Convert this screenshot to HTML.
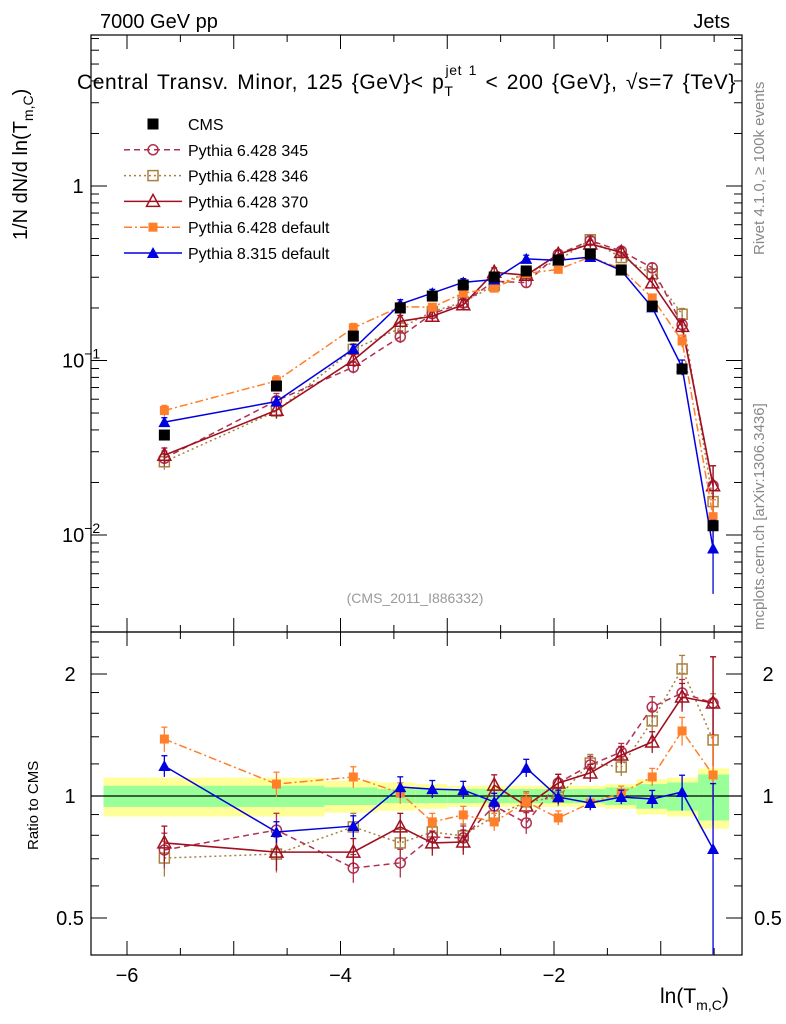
<!DOCTYPE html>
<html><head><meta charset="utf-8"><style>
body{margin:0;background:#fff}
svg{display:block;font-family:"Liberation Sans",sans-serif}
</style></head><body>
<svg id="c" width="786" height="1024" viewBox="0 0 786 1024" xmlns="http://www.w3.org/2000/svg">
<rect x="0" y="0" width="786" height="1024" fill="#fff"/>
<g id="bands"></g><g id="grid"></g><g id="marks"></g>
<rect x="91" y="35" width="651" height="597" fill="none" stroke="#000" stroke-width="1.2"/>
<rect x="91" y="632" width="651" height="323" fill="none" stroke="#000" stroke-width="1.2"/>
<text x="100" y="28" font-size="20">7000 GeV pp</text>
<text x="730" y="28" font-size="20" text-anchor="end">Jets</text>
<text x="77" y="89" font-size="21" letter-spacing="0.6" word-spacing="2">Central Transv. Minor, 125 {GeV}&lt; p<tspan font-size="14" dy="7">T</tspan><tspan font-size="14" dx="-8" dy="-21">jet 1</tspan><tspan dy="14"> &lt; 200 {GeV}, √s=7 {TeV}</tspan></text>
<text transform="translate(27,240) rotate(-90)" font-size="20">1/N    dN/d ln(T<tspan font-size="14" dy="6">m,C</tspan><tspan dy="-6">)</tspan></text>
<text transform="translate(38,850) rotate(-90)" font-size="15">Ratio to CMS</text>
<text x="660" y="1003" font-size="21">ln(T<tspan font-size="14" dy="7">m,C</tspan><tspan dy="-7">)</tspan></text>
<text transform="translate(764,255) rotate(-90)" font-size="15" fill="#888">Rivet 4.1.0, ≥ 100k events</text>
<text transform="translate(764,630) rotate(-90)" font-size="15" fill="#888">mcplots.cern.ch [arXiv:1306.3436]</text>
<text x="415" y="603" font-size="14" fill="#999" text-anchor="middle">(CMS_2011_I886332)</text>
<g id="legend"></g>
</svg>
<script>
const xs=[-5.65,-4.60,-3.88,-3.44,-3.14,-2.85,-2.56,-2.26,-1.96,-1.66,-1.37,-1.08,-0.80,-0.51];
const cms=[0.0374,0.0714,0.138,0.200,0.234,0.271,0.301,0.326,0.377,0.408,0.330,0.205,0.0894,0.0113];
const rPy8=[1.186,0.815,0.843,1.052,1.040,1.035,0.967,1.173,0.994,0.961,0.994,0.983,1.023,0.740];
const rDef=[1.382,1.070,1.114,1.017,0.863,0.898,0.863,0.967,0.883,0.961,1.017,1.114,1.447,1.127];
const r345=[0.736,0.824,0.664,0.684,0.792,0.788,0.945,0.858,1.077,1.193,1.284,1.658,1.795,1.696];
const r346=[0.703,0.719,0.839,0.766,0.815,0.797,0.893,0.967,0.994,1.206,1.179,1.532,2.058,1.375];
const r370=[0.766,0.727,0.727,0.839,0.766,0.770,1.064,0.945,1.077,1.140,1.262,1.359,1.755,1.696];
const ePy8=[0.06,0.06,0.06,0.06,0.05,0.05,0.05,0.05,0.04,0.04,0.04,0.05,0.1,0.45];
const eDef=[0.07,0.07,0.06,0.06,0.05,0.05,0.05,0.05,0.04,0.04,0.04,0.05,0.08,0.25];
const eOth=[0.1,0.1,0.08,0.08,0.07,0.07,0.06,0.06,0.05,0.05,0.05,0.06,0.08,0.3];
const binEdges=[-6.22,-5.1,-4.15,-3.65,-3.3,-3.0,-2.7,-2.42,-2.12,-1.82,-1.52,-1.23,-0.94,-0.65,-0.36];
const bandTot=[0.11,0.11,0.09,0.08,0.07,0.06,0.06,0.06,0.06,0.06,0.07,0.1,0.11,0.17];
const bandStat=[0.06,0.06,0.05,0.04,0.04,0.04,0.04,0.04,0.04,0.04,0.05,0.07,0.08,0.13];
const xTickLabels=[-6,-4,-2];
const yTickExp=[0,-1,-2];
const rTickLabels=[0.5,1,2];

const NS="http://www.w3.org/2000/svg";
const X=v=>554+(v+2)*106.75;
const Y=v=>186-Math.log10(v)*174.5;
const R=v=>796-Math.log2(v)*122;
function mk(tag,at,par){const e=document.createElementNS(NS,tag);for(const k in at)e.setAttribute(k,at[k]);document.getElementById(par).appendChild(e);return e;}

for(let i=0;i<bandTot.length;i++){
 const x0=X(binEdges[i]),x1=X(binEdges[i+1]);
 let e=mk('rect',{x:x0,y:R(1+bandTot[i]),width:x1-x0,height:R(1-bandTot[i])-R(1+bandTot[i]),fill:'#ffff99'},'bands');
 
 
 e=mk('rect',{x:x0,y:R(1+bandStat[i]),width:x1-x0,height:R(1-bandStat[i])-R(1+bandStat[i]),fill:'#99ff99'},'bands');
 
 
}
mk('line',{x1:91,x2:742,y1:R(1),y2:R(1),stroke:'#000','stroke-width':1.3},'bands');

function tick(x1,y1,x2,y2){mk('line',{x1,y1,x2,y2,stroke:'#000','stroke-width':1},'grid');}
for(let v=-6;v<=-0.5;v+=0.5){
 const x=X(v),maj=Math.abs(v%1)<1e-6, L=maj?14:7;
 tick(x,632,x,632-L);tick(x,35,x,35+L);tick(x,955,x,955-L);tick(x,632,x,632+L);
}
xTickLabels.forEach(v=>{const t=mk('text',{x:X(v),y:982,'font-size':20,'text-anchor':'middle'},'grid');t.textContent='\u2212'+Math.abs(v);
 
 });
for(let d=-3;d<1;d++)for(let m=1;m<10;m++){const v=m*Math.pow(10,d);const y=Y(v);if(y<35||y>632)continue;const L=m==1?16:8;tick(91,y,91+L,y);tick(742,y,742-L,y);}
yTickExp.forEach(p=>{const t=mk('text',{x:p==0?78:62,y:Y(Math.pow(10,p))+7,'font-size':20,'text-anchor':p==0?'middle':'start'},'grid');
 if(p==0)t.textContent='1';else{t.textContent='10';const s=document.createElementNS(NS,'tspan');s.setAttribute('font-size','14');s.setAttribute('dy','-9');s.textContent='\u2212'+Math.abs(p);t.appendChild(s);}
 
 });
[0.5,1,2].forEach(v=>{const y=R(v);tick(91,y,107,y);tick(742,y,726,y);});
[0.6,0.7,0.8,0.9,1.2,1.4,1.6,1.8,2.2,2.4].forEach(v=>{const y=R(v);tick(91,y,99,y);tick(742,y,734,y);});
rTickLabels.forEach(v=>{[70,768].forEach(x=>{const t=mk('text',{x:x,y:R(v)+7,'font-size':20,'text-anchor':'middle'},'grid');t.textContent=String(v);
 
 });});

function marker(type,col,x,y,par){
 par=par||'marks';
 let e;
 if(type=='sq')e=mk('rect',{x:x-5.5,y:y-5.5,width:11,height:11,fill:'#000'},par);
 else if(type=='fsq')e=mk('rect',{x:x-4.5,y:y-4.5,width:9,height:9,fill:col},par);
 else if(type=='osq')e=mk('rect',{x:x-5,y:y-5,width:10,height:10,fill:'none',stroke:col,'stroke-width':1.5},par);
 else if(type=='oc')e=mk('circle',{cx:x,cy:y,r:5,fill:'none',stroke:col,'stroke-width':1.5},par);
 else if(type=='otr')e=mk('polygon',{points:`${x},${y-7} ${x-6.5},${y+5} ${x+6.5},${y+5}`,fill:'none',stroke:col,'stroke-width':1.5},par);
 else e=mk('polygon',{points:`${x},${y-6} ${x-6},${y+5} ${x+6},${y+5}`,fill:col},par);
 return e;
}
const series=[
 {name:'pythia-6428-346',r:r346,e:eOth,col:'#a88040',dash:'2,3',m:'osq',w:1.5},
 {name:'pythia-6428-345',r:r345,e:eOth,col:'#b03050',dash:'6,4',m:'oc',w:1.5},
 {name:'pythia-6428-370',r:r370,e:eOth,col:'#a01020',dash:'',m:'otr',w:1.6},
 {name:'pythia-6428-default',r:rDef,e:eDef,col:'#ff7f2a',dash:'8,3,2,3',m:'fsq',w:1.5},
 {name:'pythia-8315-default',r:rPy8,e:ePy8,col:'#0000e0',dash:'',m:'tr',w:1.5}
];
series.forEach(s=>{
 const vals=cms.map((c,i)=>c*s.r[i]);
 [[vals,Y],[s.r,R]].forEach(([arr,F])=>{
  const pts=xs.map((x,i)=>X(x)+','+F(arr[i])).join(' ');
  const l=mk('polyline',{points:pts,fill:'none',stroke:s.col,'stroke-width':s.w,'stroke-dasharray':s.dash},'marks');
  
  
  xs.forEach((x,i)=>{
   const hi=F(arr[i]*(1+s.e[i])),lo=F(Math.max(arr[i]*(1-s.e[i]),1e-4));
   const cx=X(x);
   mk('line',{x1:cx,x2:cx,y1:hi,y2:Math.min(lo,F===R?955:632),stroke:s.col,'stroke-width':1.3},'marks');
   mk('line',{x1:cx-3,x2:cx+3,y1:hi,y2:hi,stroke:s.col,'stroke-width':1.3},'marks');
   const m=marker(s.m,s.col,cx,F(arr[i]));
   
   
  });
 });
});
cms.forEach((c,i)=>{const m=marker('sq','#000',X(xs[i]),Y(c));
 
 });

const leg=[['CMS','sq','#000',''],['Pythia 6.428 345','oc','#b03050','6,4'],['Pythia 6.428 346','osq','#a88040','2,3'],['Pythia 6.428 370','otr','#a01020',''],['Pythia 6.428 default','fsq','#ff7f2a','8,3,2,3'],['Pythia 8.315 default','tr','#0000e0','']];
leg.forEach((L,i)=>{const y=124+i*25.8;
 if(i>0)mk('line',{x1:124,x2:182,y1:y,y2:y,stroke:L[2],'stroke-width':1.5,'stroke-dasharray':L[3]},'legend');
 marker(L[1],L[2],153,y,'legend');
 const t=mk('text',{x:188,y:y+6,'font-size':16},'legend');t.textContent=L[0];
 
 
});
</script>
</body></html>
